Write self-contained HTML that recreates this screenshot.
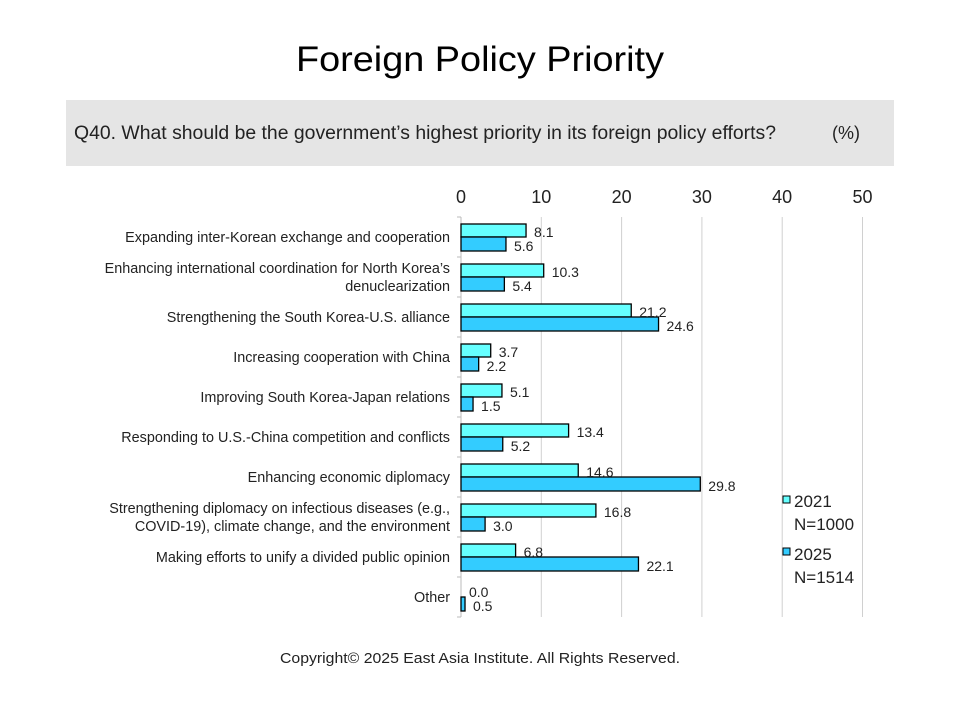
<!DOCTYPE html>
<html><head><meta charset="utf-8"><style>
body{margin:0;background:#fff;font-family:"Liberation Sans","Noto Sans CJK KR",sans-serif;}
svg text{font-family:"Liberation Sans","Noto Sans CJK KR",sans-serif;}
</style></head><body>
<svg id="chart" width="960" height="720" xmlns="http://www.w3.org/2000/svg">
<text x="480" y="71" text-anchor="middle" font-size="35" fill="#000" textLength="368" lengthAdjust="spacingAndGlyphs">Foreign Policy Priority</text>
<rect x="66" y="100" width="828" height="66" fill="#e5e5e5"/>
<text x="74" y="139" font-size="19" fill="#222" textLength="702" lengthAdjust="spacingAndGlyphs">Q40. What should be the government’s highest priority in its foreign policy efforts?</text>
<text x="832" y="139" font-size="18" fill="#222">(%)</text>
<g id="grid"></g><g id="bars"></g><g id="labels"></g>
<g>
<rect x="783" y="496" width="7" height="7" fill="#66FFFF" stroke="#000" stroke-width="1"/>
<text x="794" y="507" font-size="17" fill="#222">2021</text>
<text x="794" y="530" font-size="17" fill="#222">N=1000</text>
<rect x="783" y="548" width="7" height="7" fill="#33CCFF" stroke="#000" stroke-width="1"/>
<text x="794" y="560" font-size="17" fill="#222">2025</text>
<text x="794" y="583" font-size="17" fill="#222">N=1514</text>
</g>
<text x="480" y="663" text-anchor="middle" font-size="15" fill="#222" textLength="400" lengthAdjust="spacingAndGlyphs">Copyright© 2025 East Asia Institute. All Rights Reserved.</text>
</svg>
<script>
const categories=[["Expanding inter-Korean exchange and cooperation"],["Enhancing international coordination for North Korea’s","denuclearization"],["Strengthening the South Korea-U.S. alliance"],["Increasing cooperation with China"],["Improving South Korea-Japan relations"],["Responding to U.S.-China competition and conflicts"],["Enhancing economic diplomacy"],["Strengthening diplomacy on infectious diseases (e.g.,","COVID-19), climate change, and the environment"],["Making efforts to unify a divided public opinion"],["Other"]];
const values2021=[8.1,10.3,21.2,3.7,5.1,13.4,14.6,16.8,6.8,0.0];
const values2025=[5.6,5.4,24.6,2.2,1.5,5.2,29.8,3.0,22.1,0.5];
const ticks=[0,10,20,30,40,50];
const NS="http://www.w3.org/2000/svg";
const x0=461,pxPer=8.03,top0=217,rowH=40;
const xs=v=>x0+v*pxPer;
function mk(tag,attrs,parent){const e=document.createElementNS(NS,tag);for(const k in attrs)e.setAttribute(k,attrs[k]);parent.appendChild(e);return e;}
const grid=document.getElementById('grid'),bars=document.getElementById('bars'),labels=document.getElementById('labels');
ticks.forEach(t=>{
 if(t>0){const l=mk('line',{x1:xs(t),x2:xs(t),y1:top0,y2:top0+rowH*categories.length,stroke:'#d0d0d0','stroke-width':1},grid);
 
 }
 const tx=mk('text',{x:xs(t),y:203,'text-anchor':'middle','font-size':18,fill:'#222'},grid);tx.textContent=t;
 
 
});
const ax=mk('line',{x1:x0,x2:x0,y1:top0,y2:top0+rowH*categories.length,stroke:'#bbb','stroke-width':1},grid);


for(let i=0;i<=categories.length;i++){mk('line',{x1:x0-4,x2:x0,y1:top0+rowH*i,y2:top0+rowH*i,stroke:'#bbb'},grid);}
categories.forEach((c,i)=>{
 const yt=top0+rowH*i;
 const b1=mk('rect',{x:x0,y:yt+7,width:values2021[i]*pxPer,height:13,fill:'#66FFFF',stroke:'#000','stroke-width':1.3},bars);
 
 
 const b2=mk('rect',{x:x0,y:yt+20,width:values2025[i]*pxPer,height:14,fill:'#33CCFF',stroke:'#000','stroke-width':1.3},bars);
 
 
 const l1=mk('text',{x:xs(values2021[i])+8,y:yt+20,'font-size':14,fill:'#222'},labels);l1.textContent=values2021[i].toFixed(1);
 
 
 const l2=mk('text',{x:xs(values2025[i])+8,y:yt+34,'font-size':14,fill:'#222'},labels);l2.textContent=values2025[i].toFixed(1);
 
 
 const cy=yt+rowH/2+5;
 c.forEach((line,j)=>{
  const t=mk('text',{x:450,y:c.length===1?cy:cy-9+j*18,'text-anchor':'end','font-size':14.4,fill:'#222'},labels);t.textContent=line;
  
  
 });
});
</script>
</body></html>
